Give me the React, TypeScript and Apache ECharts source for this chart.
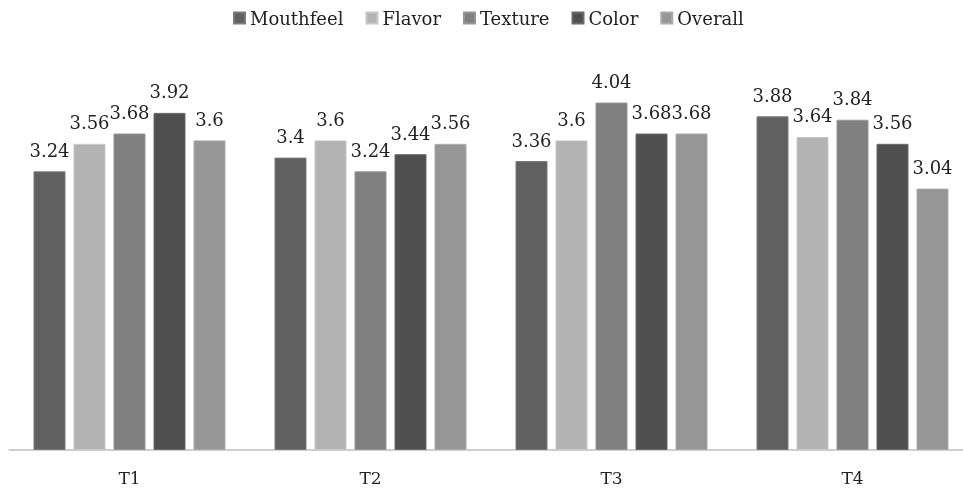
import React, { useEffect, useRef } from "react";
import * as echarts from "echarts";

const categories = ["T1", "T2", "T3", "T4"];
const seriesNames = ["Mouthfeel", "Flavor", "Texture", "Color", "Overall"];
const mouthfeel = [3.24, 3.4, 3.36, 3.88];
const flavor = [3.56, 3.6, 3.6, 3.64];
const texture = [3.68, 3.24, 4.04, 3.84];
const color = [3.92, 3.44, 3.68, 3.56];
const overall = [3.6, 3.56, 3.68, 3.04];
const seriesValues = [mouthfeel, flavor, texture, color, overall];
const colors = ["#606060", "#b3b3b3", "#808080", "#4f4f4f", "#969696"];
const borders = ["#7a7a7a", "#c8c8c8", "#959595", "#6a6a6a", "#aaaaaa"];

const FONT = "'DejaVu Serif', 'Liberation Serif', serif";

export default function App() {
  const ref = useRef<HTMLDivElement>(null);
  useEffect(() => {
    if (!ref.current) return;
    const chart = echarts.init(ref.current, null, { renderer: "svg" });
    chart.setOption({
      animation: false,
      legend: {
        top: 4,
        left: 228,
        itemWidth: 11,
        itemHeight: 11,
        itemGap: 22,
        icon: "rect",
        textStyle: { fontFamily: FONT, fontSize: 18, color: "#222" },
        data: seriesNames,
      },
      grid: {
        left: 9,
        right: -10,
        top: 63,
        bottom: 41,
        containLabel: false,
        outerBoundsMode: "none",
      },
      xAxis: {
        type: "category",
        data: categories,
        axisLine: { lineStyle: { color: "#bfbfbf", width: 1.5 } },
        axisTick: { show: false },
        axisLabel: { margin: 19, fontFamily: FONT, fontSize: 17, color: "#222" },
      },
      yAxis: {
        type: "value",
        min: 0,
        max: 4.5,
        show: false,
        splitLine: { show: false },
      },
      series: seriesNames.map((name, i) => ({
        name,
        type: "bar",
        data: seriesValues[i],
        barWidth: 32,
        barGap: "25%",
        itemStyle: { color: colors[i], borderColor: borders[i], borderWidth: 1 },
        label: {
          show: true,
          position: "top",
          distance: 12,
          fontFamily: FONT,
          fontSize: 18,
          color: "#222",
        },
      })),
    });
    return () => chart.dispose();
  }, []);
  return (
    <div
      ref={ref}
      style={{ position: "fixed", left: 0, top: 0, width: 963, height: 491 }}
    />
  );
}
